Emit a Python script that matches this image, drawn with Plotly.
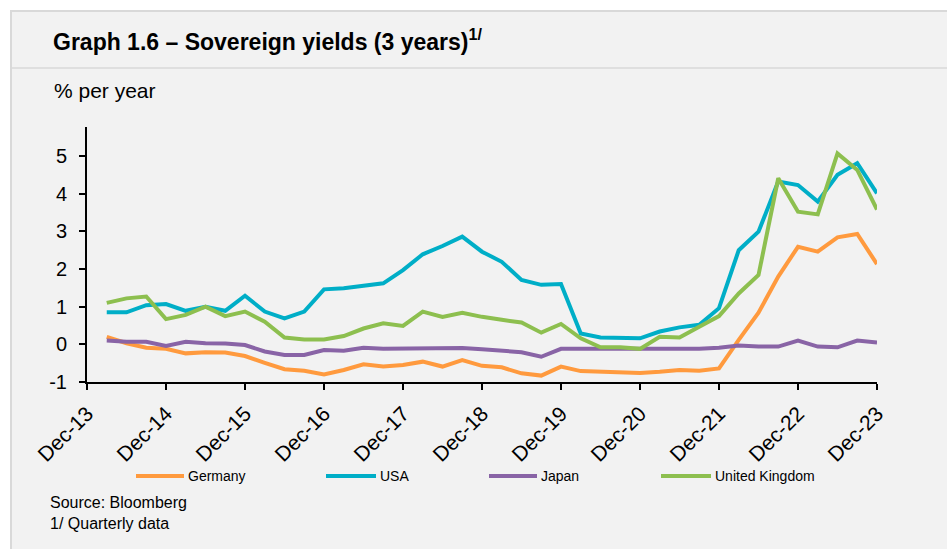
import plotly.graph_objects as go

# Quarter-end labels, Mar-14 .. Dec-23 (40 quarterly observations)
months = ["Mar", "Jun", "Sep", "Dec"]
quarters = [f"{m}-{y:02d}" for y in range(14, 24) for m in months]
x_pos = list(range(1, len(quarters) + 1))  # Dec-13 sits at 0

germany = [0.20, 0.03, -0.09, -0.12, -0.24, -0.21, -0.22, -0.31, -0.49, -0.66,
           -0.70, -0.80, -0.68, -0.53, -0.59, -0.55, -0.46, -0.59, -0.42, -0.57,
           -0.61, -0.77, -0.83, -0.59, -0.71, -0.72, -0.74, -0.76, -0.73, -0.68,
           -0.70, -0.64, 0.12, 0.84, 1.80, 2.59, 2.46, 2.84, 2.93, 2.13]
usa = [0.85, 0.85, 1.04, 1.07, 0.89, 1.00, 0.89, 1.29, 0.87, 0.69,
       0.87, 1.46, 1.49, 1.55, 1.62, 1.97, 2.39, 2.61, 2.86, 2.46,
       2.19, 1.71, 1.58, 1.60, 0.29, 0.18, 0.16, 0.16, 0.34, 0.45,
       0.52, 0.96, 2.50, 2.99, 4.32, 4.23, 3.79, 4.50, 4.81, 4.01]
japan = [0.10, 0.07, 0.07, -0.04, 0.07, 0.03, 0.02, -0.02, -0.19, -0.28,
         -0.28, -0.15, -0.17, -0.09, -0.12, -0.12, -0.12, -0.12, -0.10, -0.13,
         -0.17, -0.21, -0.33, -0.12, -0.12, -0.12, -0.13, -0.13, -0.13, -0.13,
         -0.12, -0.09, -0.03, -0.06, -0.06, 0.10, -0.06, -0.08, 0.10, 0.05]
uk = [1.10, 1.22, 1.27, 0.67, 0.78, 1.00, 0.75, 0.87, 0.60, 0.18,
      0.13, 0.13, 0.22, 0.42, 0.56, 0.49, 0.87, 0.73, 0.84, 0.73,
      0.65, 0.58, 0.31, 0.54, 0.16, -0.08, -0.08, -0.12, 0.20, 0.18,
      0.47, 0.75, 1.35, 1.84, 4.41, 3.52, 3.45, 5.07, 4.63, 3.58]

tick_vals = list(range(0, 41, 4))
tick_text = [f"Dec-{y:02d}" for y in range(13, 24)]
y_ticks = [-1, 0, 1, 2, 3, 4, 5]
y_tick_text = ["-1", "0", "1", "2", "3", "4", "5"]

series = [
    ("Germany", germany, "#FF9A3E"),
    ("USA", usa, "#00AEC7"),
    ("Japan", japan, "#8964A6"),
    ("United Kingdom", uk, "#8DBF4F"),
]

W, H = 947, 549
L, R, T, B = 87, 70, 127, 167
PW, PH = W - L - R, H - T - B


def px(x):
    return (x - L) / PW


def py(y):
    return (H - B - y) / PH


fig = go.Figure()
for name, vals, color in series:
    fig.add_trace(go.Scatter(
        x=x_pos, y=vals, mode="lines", name=name,
        line=dict(color=color, width=4),
        customdata=quarters,
        hovertemplate="%{customdata}: %{y:.2f}%<extra>" + name + "</extra>",
        showlegend=False,
    ))

shapes = [
    # grey panel with border on top/left and a header divider
    dict(type="rect", xref="paper", yref="paper", layer="below",
         x0=px(11), x1=px(W + 5), y0=py(H + 5), y1=py(11),
         fillcolor="#F2F2F2", line=dict(color="#D9D9D9", width=2)),
    dict(type="line", xref="paper", yref="paper", layer="below",
         x0=px(11), x1=px(W + 5), y0=py(68), y1=py(68),
         line=dict(color="#D9D9D9", width=1.5)),
]

# legend keys
legend_items = [(136, 184, 187), (326, 376, 379), (489, 537, 540), (661, 711, 714)]
annotations = []
for (x0, x1, xt), (name, _, color) in zip(legend_items, series):
    shapes.append(dict(type="line", xref="paper", yref="paper",
                       x0=px(x0), x1=px(x1), y0=py(476), y1=py(476),
                       line=dict(color=color, width=4)))
    annotations.append(dict(xref="paper", yref="paper", x=px(xt - 1), y=py(476),
                            xanchor="left", yanchor="middle", showarrow=False,
                            text=name, font=dict(size=14, color="#000000")))

annotations += [
    dict(xref="paper", yref="paper", x=px(51), y=py(40), xanchor="left",
         yanchor="middle", showarrow=False,
         text="<b>Graph 1.6 – Sovereign yields (3 years)<sup>1/</sup></b>",
         font=dict(size=23, color="#000000")),
    dict(xref="paper", yref="paper", x=px(52), y=py(90), xanchor="left",
         yanchor="middle", showarrow=False, text="% per year",
         font=dict(size=21, color="#000000")),
    dict(xref="paper", yref="paper", x=px(48), y=py(513), xanchor="left",
         yanchor="middle", showarrow=False, align="left",
         text="Source: Bloomberg<br>1/ Quarterly data",
         font=dict(size=16, color="#000000")),
]

fig.update_layout(
    width=W, height=H,
    margin=dict(l=L, r=R, t=T, b=B),
    paper_bgcolor="#FFFFFF",
    plot_bgcolor="rgba(0,0,0,0)",
    font=dict(family="Liberation Sans, Arial, sans-serif", color="#000000"),
    shapes=shapes,
    annotations=annotations,
    hovermode="closest",
)
fig.update_xaxes(
    range=[0, 40], tickvals=tick_vals, ticktext=tick_text, tickangle=-45,
    showgrid=False, zeroline=False, showline=True, linecolor="#000000",
    linewidth=2, ticks="outside", ticklen=6, tickwidth=2, tickcolor="#000000",
    tickfont=dict(size=21), ticklabelstandoff=3,
)
fig.update_yaxes(
    range=[-1, 5.77], tickvals=y_ticks, ticktext=y_tick_text, showgrid=False,
    zeroline=False, showline=True, linecolor="#000000", linewidth=2,
    ticks="outside", ticklen=6, tickwidth=2, tickcolor="#000000",
    tickfont=dict(size=20), ticklabelstandoff=8,
)

fig.write_html("out.html")
